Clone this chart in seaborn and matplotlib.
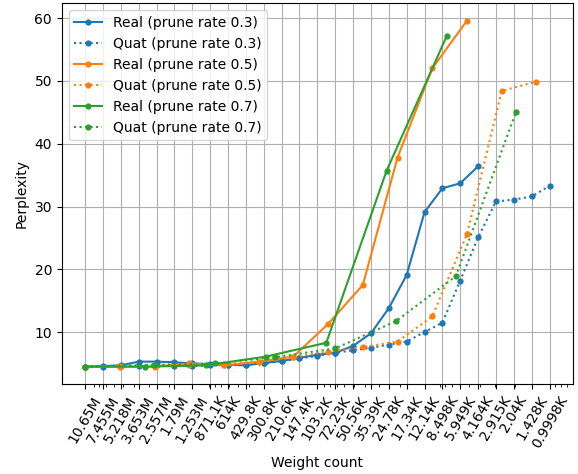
import matplotlib
matplotlib.use("Agg")
import matplotlib.pyplot as plt
import matplotlib.ticker as mticker
import numpy as np
import pandas as pd
import seaborn as sns

# Tick labels (weight counts)
tick_labels = ["10.65M", "7.455M", "5.218M", "3.653M", "2.557M", "1.79M", "1.253M",
               "871.1K", "614K", "429.8K", "300.8K", "210.6K", "147.4K", "103.2K",
               "72.23K", "50.56K", "35.39K", "24.78K", "17.34K", "12.14K", "8.498K",
               "5.949K", "4.164K", "2.915K", "2.04K", "1.428K", "0.9998K"]


def parse(s):
    return float(s[:-1]) * (1e6 if s.endswith("M") else 1e3)


tick_values = [parse(s) for s in tick_labels]

# Weight counts per series
w_real_03 = tick_values[:23]
w_quat_03 = tick_values[:27]
w_real_05 = [10650000, 5325000, 2662500, 1331250, 665625, 332812, 166406, 83203,
             41602, 20801, 10400, 5200]
w_quat_05 = [10650000, 5325000, 2662500, 1331250, 665625, 332812, 166406, 83203,
             41602, 20801, 10400, 5200, 2600, 1300]
w_real_07 = [10650000, 3195000, 958500, 287550, 86265, 25880, 7764]
w_quat_07 = [10650000, 2674000, 802300, 240700, 72200, 21660, 6499, 1950]

# Perplexity values
p_real_03 = [4.5, 4.6, 4.7, 5.3, 5.3, 5.2, 5.0, 4.9, 4.8, 4.7, 5.1, 5.4, 5.9, 6.4,
             6.7, 7.8, 9.8, 13.8, 19.1, 29.1, 32.9, 33.7, 36.4]
p_quat_03 = [4.5, 4.5, 4.6, 4.6, 4.7, 4.6, 4.6, 4.7, 4.8, 4.8, 5.0, 5.4, 5.8, 6.2,
             6.7, 7.1, 7.5, 8.0, 8.5, 10.0, 11.5, 18.2, 25.1, 30.8, 31.1, 31.6, 33.3]
p_real_05 = [4.5, 4.5, 4.5, 5.0, 4.7, 5.3, 6.1, 11.3, 17.5, 37.8, 52.0, 59.6]
p_quat_05 = [4.5, 4.6, 4.6, 4.8, 4.8, 5.2, 6.0, 6.9, 7.6, 8.5, 12.5, 25.6, 48.4, 49.9]
p_real_07 = [4.5, 4.5, 4.7, 6.1, 8.3, 35.7, 57.2]
p_quat_07 = [4.5, 4.8, 5.0, 6.0, 7.4, 11.7, 18.9, 45.1]

series = [
    ("Real (prune rate 0.3)", w_real_03, p_real_03, "#1f77b4", "-"),
    ("Quat (prune rate 0.3)", w_quat_03, p_quat_03, "#1f77b4", ":"),
    ("Real (prune rate 0.5)", w_real_05, p_real_05, "#ff7f0e", "-"),
    ("Quat (prune rate 0.5)", w_quat_05, p_quat_05, "#ff7f0e", ":"),
    ("Real (prune rate 0.7)", w_real_07, p_real_07, "#2ca02c", "-"),
    ("Quat (prune rate 0.7)", w_quat_07, p_quat_07, "#2ca02c", ":"),
]

fig, ax = plt.subplots(figsize=(5.78, 4.74), dpi=100)
fig.subplots_adjust(left=0.107, right=0.991, top=0.993, bottom=0.19)

for label, w, p, color, ls in series:
    df = pd.DataFrame({"w": w, "p": p})
    sns.lineplot(data=df, x="w", y="p", ax=ax, color=color, linestyle=ls,
                 marker="o", markersize=4.5, markeredgewidth=0, linewidth=1.5,
                 label=label, sort=False, estimator=None)

ax.set_xscale("log")
ax.xaxis.set_major_locator(mticker.FixedLocator(tick_values))
ax.xaxis.set_major_formatter(mticker.FixedFormatter(tick_labels))
ax.xaxis.set_minor_formatter(mticker.NullFormatter())
ax.invert_xaxis()
plt.setp(ax.get_xticklabels(), rotation=60, ha="center")
ax.set_yticks([10, 20, 30, 40, 50, 60])
ax.grid(True, which="major", color="#b0b0b0", linewidth=0.8)
ax.set_xlabel("Weight count")
ax.set_ylabel("Perplexity")
ax.legend(loc="upper left")

fig.savefig("out.png", dpi=100)
